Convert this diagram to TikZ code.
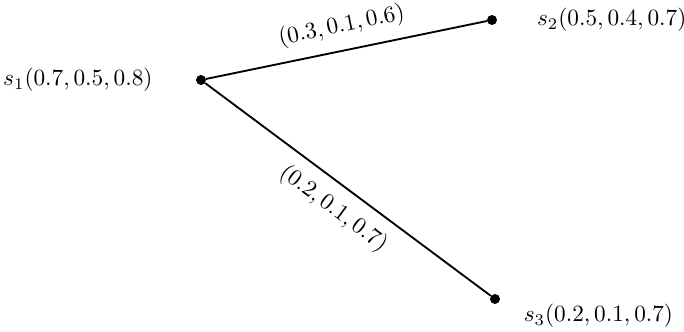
\documentclass[tikz,border=0pt]{standalone}
\usepackage{amsmath,amssymb}
\usetikzlibrary{positioning}
\tikzset{
  every picture/.style={line join=round, line cap=round},
  dot/.style={circle, fill=black, inner sep=0pt, minimum size=4.3pt},
  edge/.style={line width=0.8pt},
  elabel/.style={sloped, midway},
}

\begin{document}
\begin{tikzpicture}[x=0.43pt,y=0.43pt]
\useasboundingbox (0,0) rectangle (684,332);
% the three points
\node[dot] (s1) at (201,252) {};
\node[dot] (s2) at (492,312) {};
\node[dot] (s3) at (495,33) {};
% their labels
\node[left=15pt of s1] (l1) {$s_1(0.7,0.5,0.8)$};
\node[right=13.5pt of s2] (l2) {$s_2(0.5,0.4,0.7)$};
\node[right=6.5pt of s3, yshift=-7.3pt] (l3) {$s_3(0.2,0.1,0.7)$};
% edges
\draw[edge] (s1) -- node[elabel,above=1.7pt] (e12) {$(0.3,0.1,0.6)$} (s2);
\draw[edge] (s1) -- node[elabel,below=1.7pt] (e13) {$(0.2,0.1,0.7)$} (s3);
\end{tikzpicture}
\end{document}
